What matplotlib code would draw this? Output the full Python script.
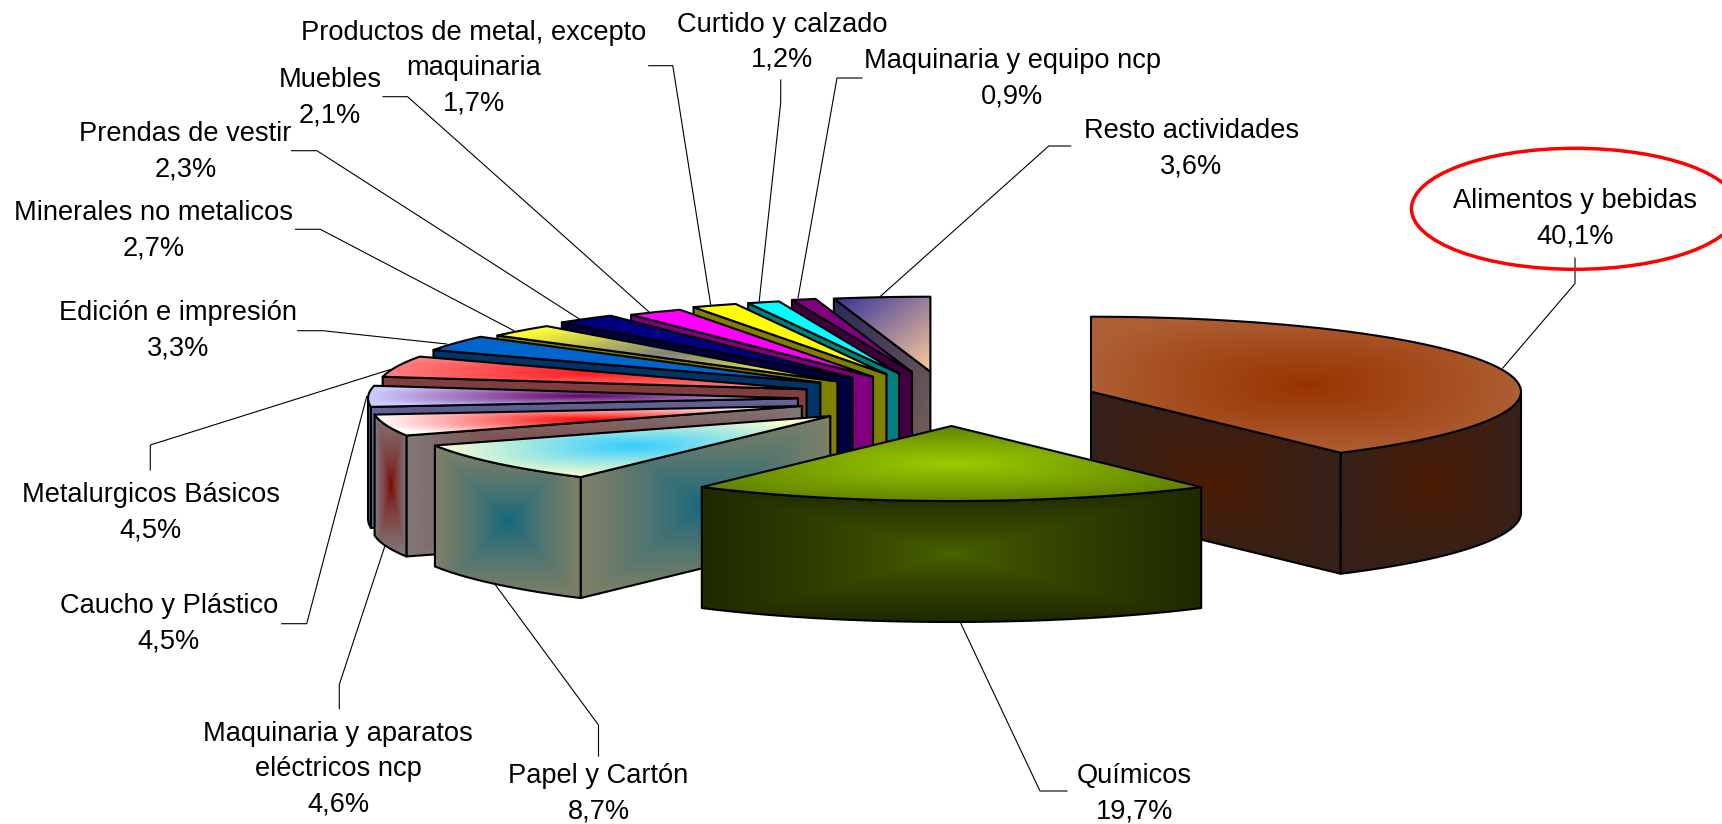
#!/usr/bin/env python3
"""Participacion por actividad: torta 3D con porciones separadas"""

import numpy as np
import matplotlib
matplotlib.use('Agg')
import matplotlib.pyplot as plt
from matplotlib.colors import to_rgb
from matplotlib.patches import Ellipse, Polygon

plt.rcParams['font.family'] = ['Liberation Sans', 'DejaVu Sans']

# Datos
categorias = ['Alimentos y bebidas', 'Químicos', 'Papel y Cartón',
              'Maquinaria y aparatos\neléctricos ncp', 'Caucho y Plástico',
              'Metalurgicos Básicos', 'Edición e impresión',
              'Minerales no metalicos', 'Prendas de vestir', 'Muebles',
              'Productos de metal, excepto\nmaquinaria', 'Curtido y calzado',
              'Maquinaria y equipo ncp', 'Resto actividades']
valores = [40.1, 19.7, 8.7, 4.6, 4.5, 4.5, 3.3, 2.7, 2.3, 2.1, 1.7, 1.2, 0.9, 3.6]

# Colores: cara superior (centro, borde) y pared (centro, borde)
sup_centro = ['#993300', '#99cc00', '#33ccff', '#ff0000', '#660066', '#ff1a1a', '#0066cc',
              '#808080', '#000080', '#ff00ff', '#ffff00', '#00ffff', '#800080', '#333399']
sup_borde = ['#ad5e33', '#648400', '#ffffcc', '#ffffff', '#ccccff', '#ff8080', '#0066cc',
             '#ffff33', '#000080', '#ff00ff', '#ffff00', '#00ffff', '#800080', '#ffcc99']
pared_centro = ['#4d1a00', '#4d6600', '#0a6680', '#800000', '#1a1a4d', '#803030', '#003366',
                '#808000', '#000040', '#800080', '#808000', '#008080', '#400040', '#29295c']
pared_borde = ['#35211a', '#1f2900', '#808066', '#807878', '#666699', '#804040', '#003366',
               '#808000', '#000040', '#800080', '#808000', '#008080', '#400040', '#806655']

# Geometria en pixeles de la figura
RADIO_X = 430
RADIO_Y = 75
ALTO = 121
PASO_LINEA = 35.2
centro_x = [1091, 951.5, 830.3, 801.8, 798, 806.6, 820.4, 837.4, 852.5, 873, 886.5, 899, 912, 930.4]
centro_y = [391.7, 426, 416, 406, 398.3, 389.3, 382.7, 381.4, 377.7, 376.8, 374.2, 373.4, 372, 371.7]

# Centro del bloque de texto de cada etiqueta
texto_x = [1575, 1134.4, 598.5, 338, 169, 150.5, 178, 153.8, 185.4, 330, 473.6, 782, 1012.5, 1191.5]
texto_y = [216, 791, 791, 766, 620.5, 509.5, 328, 228, 149, 95, 65, 39.3, 76, 146]

# Lineas guia
guias = [
    [(1575, 258), (1575, 283.5), (1502.8, 368)],
    [(1067, 791), (1040, 791), (960, 621.7)],
    [(598.5, 756), (598.5, 725), (494, 583)],
    [(339.3, 708.8), (339.3, 684.5), (385, 545.6)],
    [(281.7, 623.7), (306.7, 623.7), (366.7, 396.5)],
    [(150.3, 470), (150.3, 445), (390, 369.6)],
    [(297.7, 330.7), (322.7, 330.7), (446.7, 344)],
    [(295.6, 229.3), (320.3, 229.3), (514, 330.7)],
    [(291.6, 150.7), (316.9, 150.7), (579.8, 319.3)],
    [(383, 96.7), (407.6, 96.7), (648.7, 311.7)],
    [(648.7, 65.7), (672.8, 65.7), (710.7, 305)],
    [(780.7, 80), (780.7, 103), (759, 303)],
    [(862, 78), (837, 78), (798, 298)],
    [(1070.7, 146), (1048.8, 146), (880, 296.7)],
]


def punto(cx, cy, ang):
    """Punto del borde de la elipse; ang en grados desde las 12, horario"""
    r = np.radians(ang)
    return cx + RADIO_X * np.sin(r), cy - RADIO_Y * np.cos(r)


def arco(cx, cy, a1, a2):
    angs = np.linspace(a1, a2, max(int(abs(a2 - a1) / 2), 2))
    return [punto(cx, cy, a) for a in angs]


def pintar(ax, verts, c_centro, c_borde, z, modo='cara'):
    """Rellena el poligono con un degradado desde el centro de su caja"""
    verts = np.array(verts)
    x0, y0 = verts.min(axis=0)
    x1, y1 = verts.max(axis=0)
    nx = max(int(x1 - x0), 2)
    ny = max(int(y1 - y0), 2)
    u, v = np.meshgrid(np.linspace(-1, 1, nx), np.linspace(-1, 1, ny))
    if modo == 'diagonal':
        t = (u + v + 2) / 4
    elif modo == 'pared':
        t = np.maximum(np.abs(u), np.abs(v)) ** 0.7
    else:
        t = np.clip((np.abs(u) ** 3 + np.abs(v) ** 3) ** (1 / 3), 0, 1)
    c0 = np.array(to_rgb(c_centro))
    c1 = np.array(to_rgb(c_borde))
    img = c0 + (c1 - c0) * t[..., None]
    im = ax.imshow(img, extent=(x0, x1, y1, y0), aspect='auto', zorder=z, interpolation='bilinear')
    pol = Polygon(verts, closed=True, facecolor='none', edgecolor='black', linewidth=1.5,
                  joinstyle='round', zorder=z + 0.5)
    ax.add_patch(pol)
    im.set_clip_path(pol)


def dibujar_porcion(ax, i, a1, a2, z):
    cx, cy = centro_x[i], centro_y[i]
    ultimo = i == len(valores) - 1

    # pared radial visible
    for ang, visible in ((a1, a1 >= 180), (a2, a2 <= 180)):
        if visible:
            px, py = punto(cx, cy, ang)
            pared = [(cx, cy), (px, py), (px, py + ALTO), (cx, cy + ALTO)]
            pintar(ax, pared, pared_centro[i], pared_borde[i], z, 'diagonal' if ultimo else 'pared')
            z += 1

    # pared exterior, solo la mitad de adelante de la elipse
    b1, b2 = max(a1, 90), min(a2, 270)
    if b2 > b1:
        sup = arco(cx, cy, b1, b2)
        inf = [(x, y + ALTO) for x, y in sup[::-1]]
        pintar(ax, sup + inf, pared_centro[i], pared_borde[i], z, 'pared')
        z += 1

    # cara superior
    cara = [(cx, cy)] + arco(cx, cy, a1, a2)
    pintar(ax, cara, sup_centro[i], sup_borde[i], z, 'diagonal' if ultimo else 'cara')
    return z + 1


def main():
    fig = plt.figure(figsize=(17.22, 8.24), dpi=100)
    ax = fig.add_axes([0, 0, 1, 1])

    vals = np.array(valores)
    angulos = np.concatenate([[0], np.cumsum(vals) / vals.sum() * 360])

    # de atras hacia adelante: primero las chicas, al final Alimentos y Quimicos
    orden = list(range(len(valores) - 1, 1, -1)) + [0, 1]
    z = 10
    for i in orden:
        z = dibujar_porcion(ax, i, angulos[i], angulos[i + 1], z)

    for guia in guias:
        xs, ys = zip(*guia)
        ax.plot(xs, ys, color='black', linewidth=0.8, zorder=5, solid_joinstyle='miter')

    # cada renglon va como texto aparte para fijar bien el interlineado
    for nombre, valor, tx, ty in zip(categorias, valores, texto_x, texto_y):
        renglones = nombre.split('\n') + [f"{valor:.1f}%".replace('.', ',')]
        n = len(renglones)
        for k, renglon in enumerate(renglones):
            base = ty + (k - (n - 1) / 2) * PASO_LINEA + 10
            ax.text(tx, base, renglon, ha='center', va='baseline', fontsize=19.6,
                    color='black', zorder=z + 2)

    # marca roja sobre la porcion principal
    ax.add_patch(Ellipse((1575, 208.8), 327, 121, facecolor='none', edgecolor='#ff0000',
                         linewidth=2.5, zorder=z + 1))

    ax.set_xlim(0, 1722)
    ax.set_ylim(824, 0)
    ax.axis('off')
    fig.savefig('out.png', dpi=100)


if __name__ == '__main__':
    main()
